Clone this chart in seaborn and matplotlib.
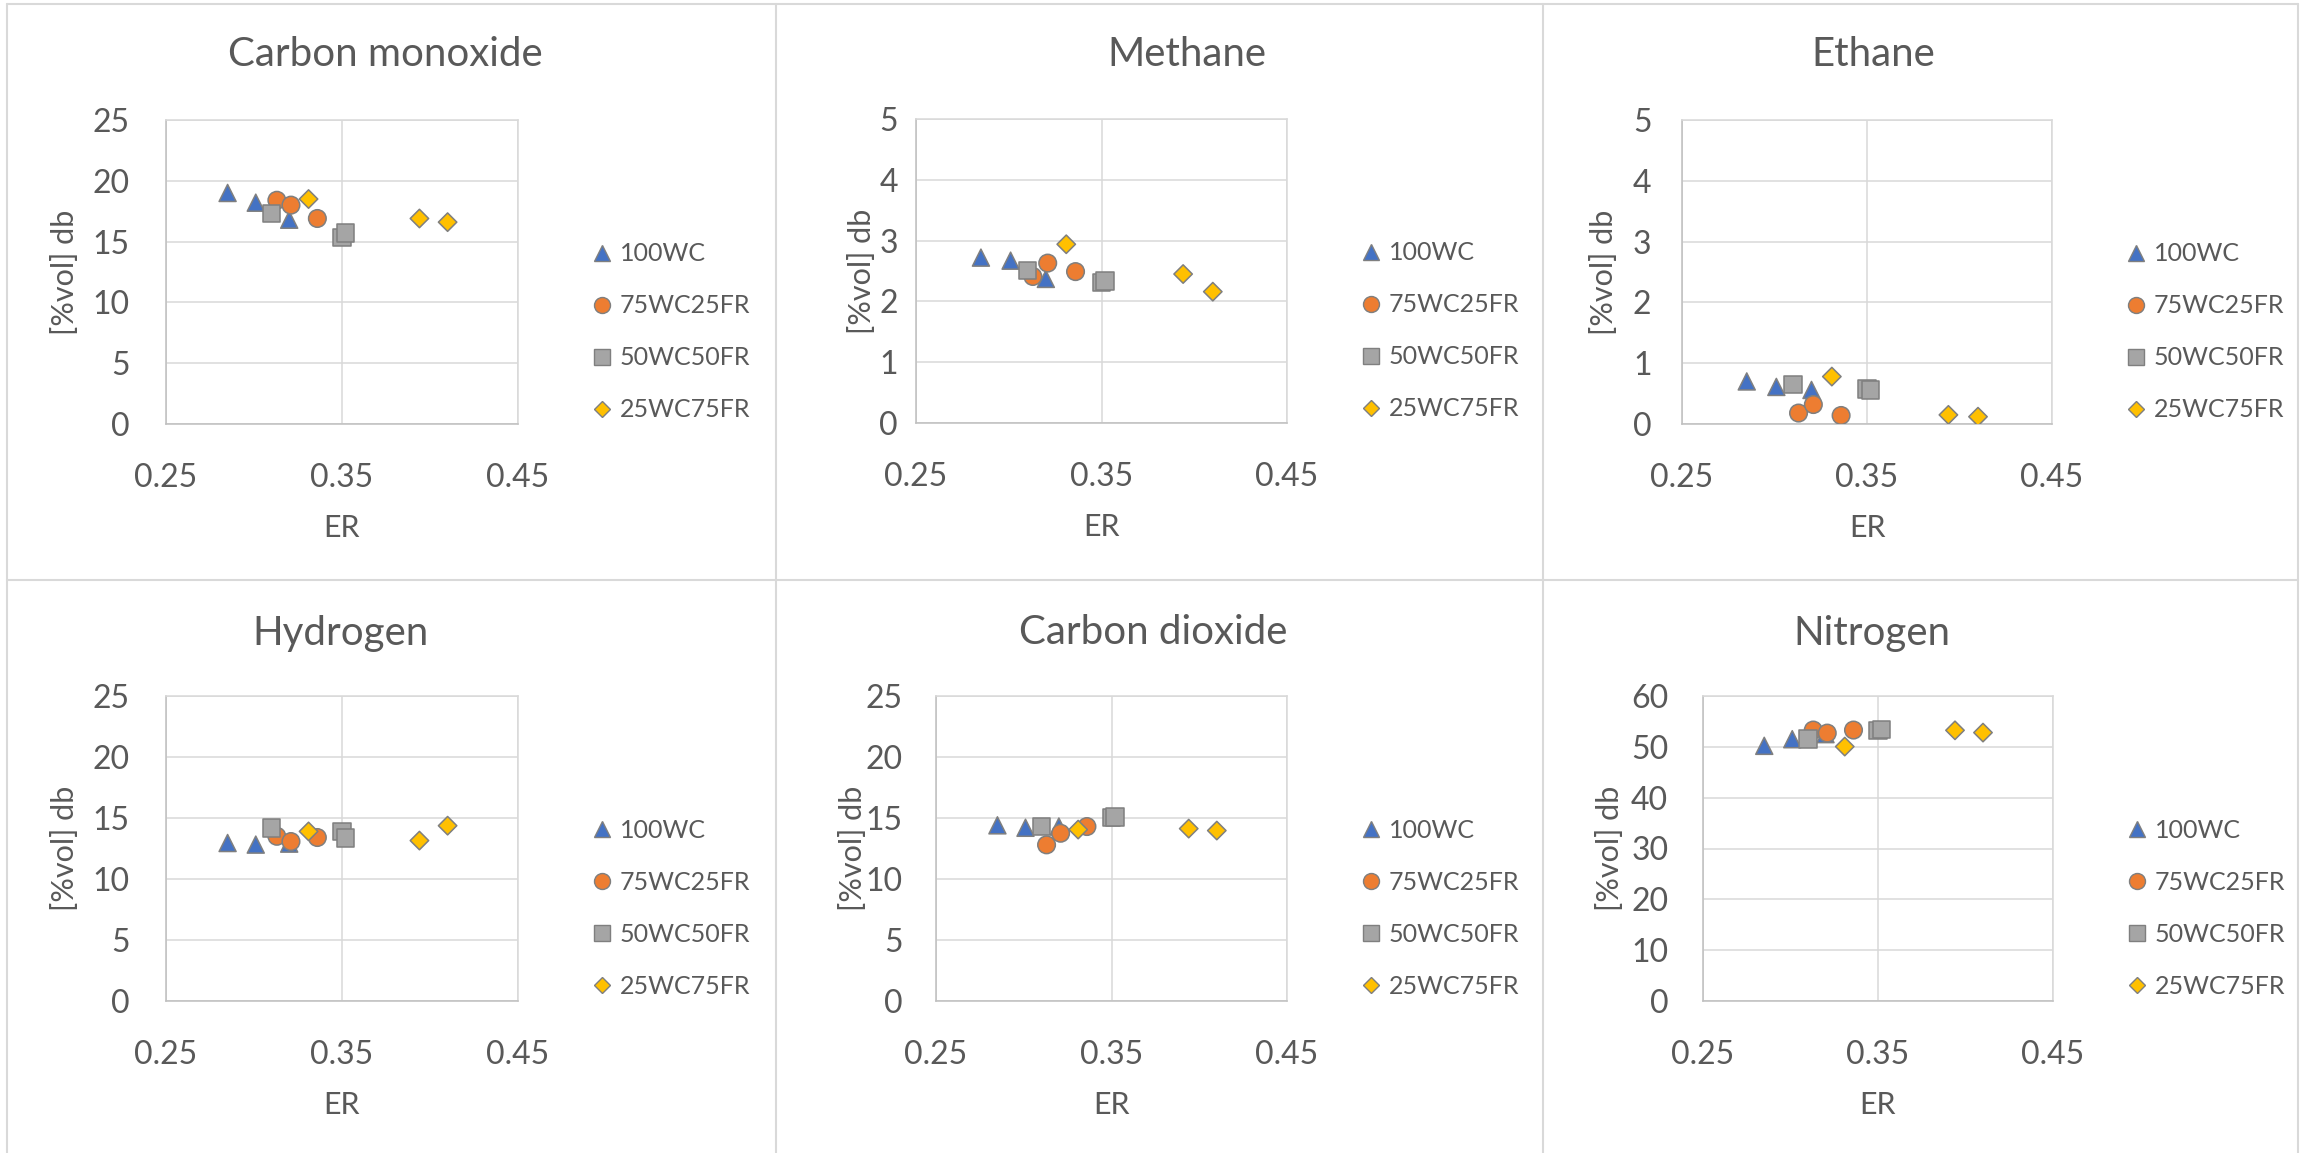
import numpy as np
import pandas as pd
import matplotlib
matplotlib.use("Agg")
import matplotlib.pyplot as plt
import seaborn as sns
from matplotlib.lines import Line2D

# ---------------- data ----------------
BLENDS = ["100WC", "75WC25FR", "50WC50FR", "25WC75FR"]
ER_100WC = [0.285, 0.301, 0.320]
ER_75WC25FR = [0.313, 0.321, 0.336]
ER_50WC50FR = [0.310, 0.350, 0.352]
ER_25WC75FR = [0.331, 0.394, 0.410]

CO = {"100WC": [19.0, 18.2, 16.8], "75WC25FR": [18.4, 18.0, 16.9],
      "50WC50FR": [17.3, 15.35, 15.7], "25WC75FR": [18.5, 16.9, 16.6]}
CH4 = {"100WC": [2.72, 2.67, 2.37], "75WC25FR": [2.41, 2.63, 2.49],
       "50WC50FR": [2.51, 2.31, 2.34], "25WC75FR": [2.94, 2.45, 2.16]}
C2H6 = {"100WC": [0.70, 0.61, 0.56], "75WC25FR": [0.18, 0.32, 0.14],
        "50WC50FR": [0.65, 0.58, 0.56], "25WC75FR": [0.78, 0.15, 0.12]}
H2 = {"100WC": [12.95, 12.82, 12.9], "75WC25FR": [13.5, 13.07, 13.4],
      "50WC50FR": [14.16, 13.88, 13.36], "25WC75FR": [13.9, 13.15, 14.37]}
CO2 = {"100WC": [14.4, 14.2, 14.3], "75WC25FR": [12.8, 13.75, 14.3],
       "50WC50FR": [14.3, 15.03, 15.08], "25WC75FR": [14.05, 14.13, 13.97]}
N2 = {"100WC": [50.2, 51.5, 52.5], "75WC25FR": [53.3, 52.7, 53.3],
      "50WC50FR": [51.55, 53.25, 53.4], "25WC75FR": [50.05, 53.25, 52.8]}

TITLES = ["Carbon monoxide", "Methane", "Ethane", "Hydrogen", "Carbon dioxide", "Nitrogen"]
GAS_DATA = [CO, CH4, C2H6, H2, CO2, N2]
Y_MAX = [25, 5, 5, 25, 25, 60]
Y_STEP = [5, 1, 1, 5, 5, 10]
X_TICKS = [0.25, 0.35, 0.45]
X_TICK_LABELS = ["0.25", "0.35", "0.45"]
X_LABEL = "ER"
Y_LABEL = "[%vol] db"

ER = {"100WC": ER_100WC, "75WC25FR": ER_75WC25FR,
      "50WC50FR": ER_50WC50FR, "25WC75FR": ER_25WC75FR}

rows = []
for title, gd in zip(TITLES, GAS_DATA):
    for b in BLENDS:
        for x, v in zip(ER[b], gd[b]):
            rows.append({"Gas": title, "Blend": b, "ER": x, "Value": v})
df = pd.DataFrame(rows)

# ---------------- style ----------------
PALETTE = {"100WC": "#4472C4", "75WC25FR": "#ED7D31", "50WC50FR": "#A5A5A5", "25WC75FR": "#FFC000"}
MARKERS = {"100WC": "^", "75WC25FR": "o", "50WC50FR": "s", "25WC75FR": "D"}
SIZES = {"100WC": 150, "75WC25FR": 160, "50WC50FR": 160, "25WC75FR": 88}
LEG_MS = {"100WC": 11.5, "75WC25FR": 11.5, "50WC50FR": 11.0, "25WC75FR": 8.4}
EDGE = "#7F7F7F"
TXT = "#595959"
GRID = "#D9D9D9"

sns.set_style("white")
plt.rcParams["font.family"] = ["Lato", "DejaVu Sans"]

W, H = 2315, 1153
fig = plt.figure(figsize=(W / 100, H / 100), dpi=100)

# layout in pixels: plot rect (l, t, r, b), title (x, y), ylabel x, ytick pad (pt)
LAYOUT = [
    ((166, 120, 518, 424), (385, 55), 65, 26),
    ((916, 119, 1287, 423), (1187, 55), 862, 13),
    ((1682, 120, 2052, 424), (1873, 55), 1604, 22),
    ((166, 696, 518, 1001), (340, 633), 65, 26),
    ((936, 696, 1287, 1001), (1153, 633), 853, 24),
    ((1703, 696, 2053, 1001), (1872, 633), 1610, 25),
]

def fx(px):
    return px / W

def fy(py):
    return 1 - py / H

# panel borders
for x in [7, 776, 1543, 2298]:
    fig.add_artist(Line2D([fx(x), fx(x)], [fy(4), fy(1153)], transform=fig.transFigure,
                          color=GRID, lw=1.5))
for y in [4, 580]:
    fig.add_artist(Line2D([fx(7), fx(2298)], [fy(y), fy(y)], transform=fig.transFigure,
                          color=GRID, lw=1.5))

for i, title in enumerate(TITLES):
    (l, t, r, b), (tx, ty), ylx, ypad = LAYOUT[i]
    ax = fig.add_axes([fx(l), fy(b), (r - l) / W, (b - t) / H])
    sub = df[df["Gas"] == title]
    sns.scatterplot(data=sub, x="ER", y="Value", hue="Blend", style="Blend", size="Blend",
                    hue_order=BLENDS, style_order=BLENDS, size_order=BLENDS,
                    palette=PALETTE, markers=MARKERS, sizes=SIZES,
                    edgecolor=EDGE, linewidth=1.1, legend=False, ax=ax, zorder=3)
    ax.set_xlim(0.25, 0.45)
    ax.set_xticks(X_TICKS)
    ax.set_xticklabels(X_TICK_LABELS)
    yt = np.arange(0, Y_MAX[i] + 1e-9, Y_STEP[i])
    ax.set_ylim(0, Y_MAX[i])
    ax.set_yticks(yt)
    ax.set_yticklabels([str(int(v)) for v in yt])
    ax.grid(True, color=GRID, lw=1.1)
    ax.set_axisbelow(True)
    for s in ["top", "right"]:
        ax.spines[s].set_color(GRID)
        ax.spines[s].set_linewidth(1.1)
    for s in ["left", "bottom"]:
        ax.spines[s].set_color("#BFBFBF")
        ax.spines[s].set_linewidth(1.1)
    ax.tick_params(axis="both", length=0, labelsize=23, labelcolor=TXT)
    ax.tick_params(axis="x", pad=28)
    ax.tick_params(axis="y", pad=ypad)
    ax.set_xlabel("")
    ax.set_ylabel("")

    fig.text(fx(tx), fy(ty), title, ha="center", va="center", fontsize=29, color=TXT)
    fig.text(fx((l + r) / 2), fy(b + 104), X_LABEL, ha="center", va="center", fontsize=22, color=TXT)
    fig.text(fx(ylx), fy((t + b) / 2), Y_LABEL, ha="center", va="center", rotation=90,
             fontsize=22, color=TXT)

    handles = [Line2D([], [], ls="none", marker=MARKERS[bl], markersize=LEG_MS[bl],
                      markerfacecolor=PALETTE[bl], markeredgecolor=EDGE, markeredgewidth=1.0,
                      label=bl) for bl in BLENDS]
    ax.legend(handles=handles, loc="center left", bbox_to_anchor=(fx(r + 74), fy(t + 212)),
              bbox_transform=fig.transFigure, frameon=False, fontsize=18,
              labelcolor=TXT, handlelength=0.8, handletextpad=0.3, labelspacing=1.16,
              borderpad=0, borderaxespad=0)

fig.savefig("out.png", dpi=100)
